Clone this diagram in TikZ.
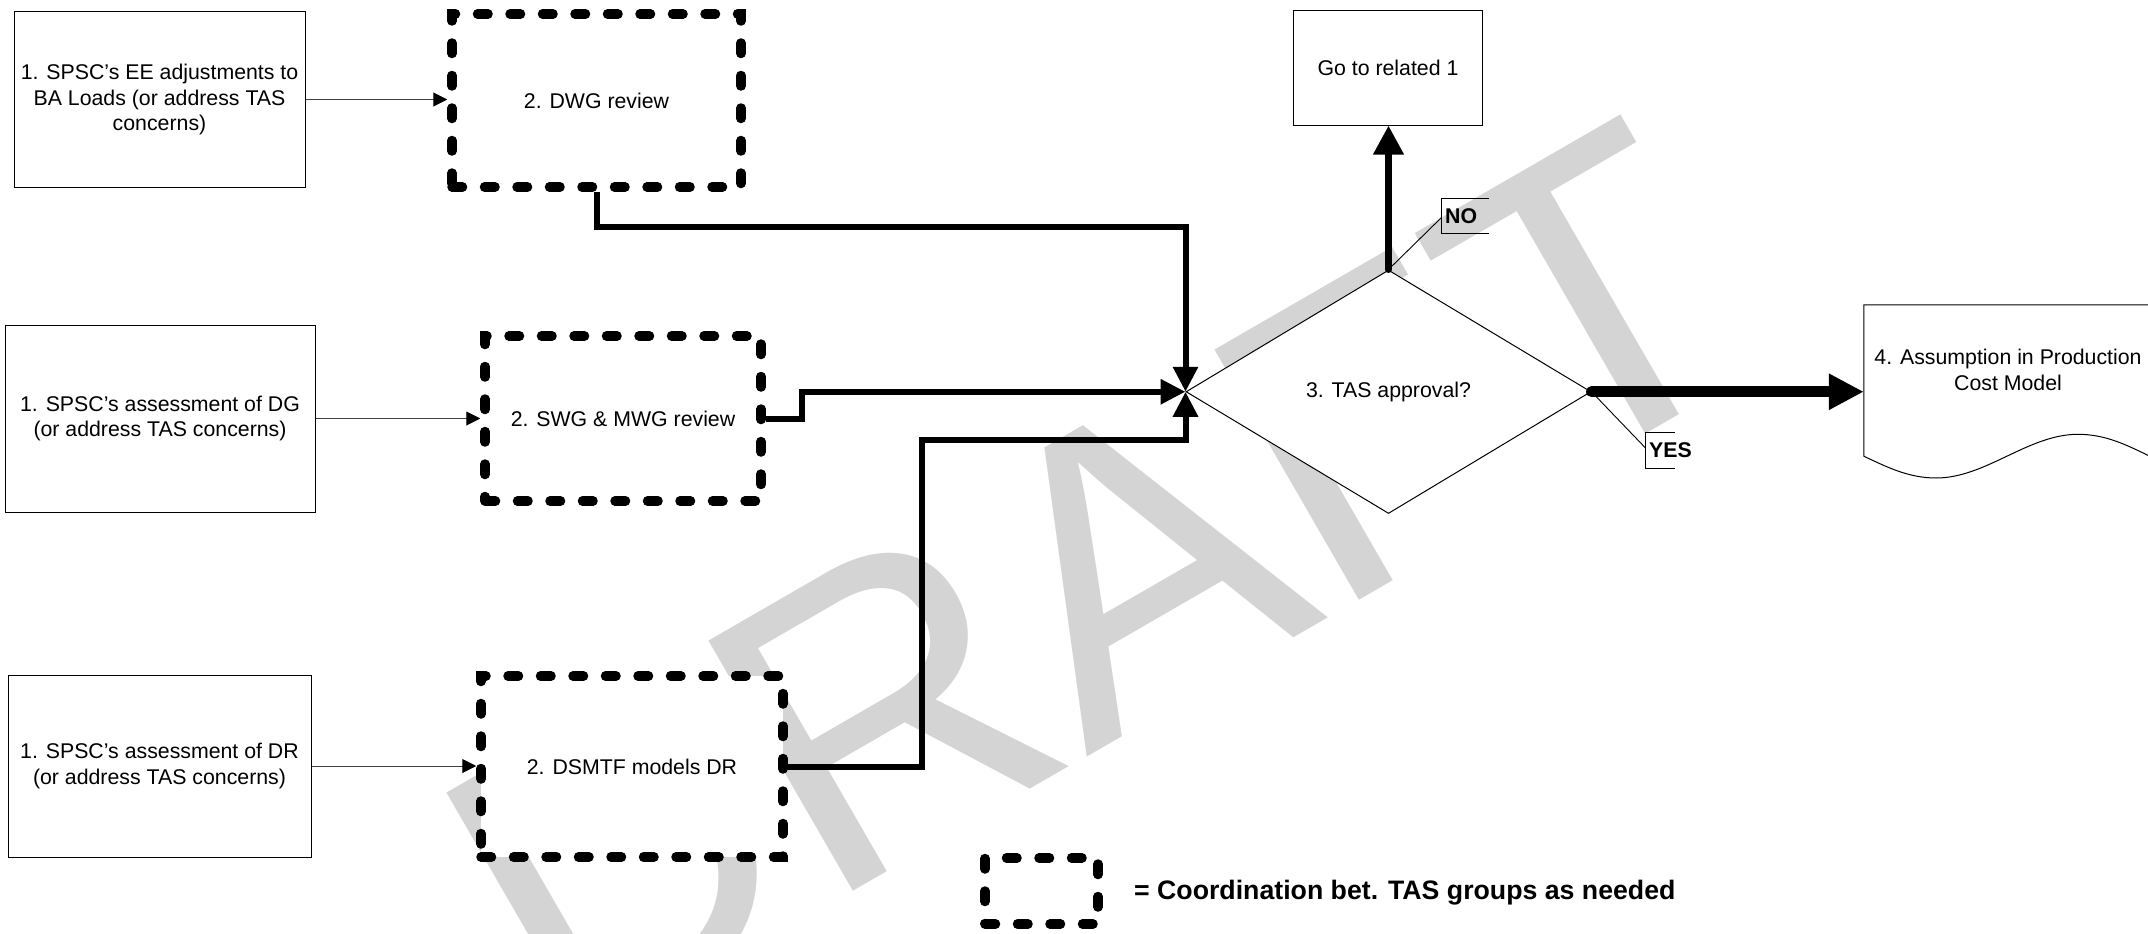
\documentclass[tikz,border=0pt]{standalone}
\usepackage{fontspec}
\setmainfont{Liberation Sans}
\usetikzlibrary{arrows.meta,shapes.geometric,calc}
\newcommand\myfs{\fontsize{21.3}{25.5}\selectfont}
\newcommand\mybf{\fontsize{21.3}{25.5}\selectfont\bfseries}
\newcommand\mylg{\fontsize{26.7}{30}\selectfont\bfseries}
\begin{document}
\begin{tikzpicture}[x=1pt,y=-1pt,
  thinbox/.style={draw=black, line width=1pt, fill=white, align=center, font=\myfs, inner sep=0pt},
  dashbox/.style={draw=black, line width=9.5pt, dash pattern=on 10.5pt off 22pt, line cap=round, fill=white, align=center, font=\myfs, inner sep=0pt},
  thinarrow/.style={draw=black!75, line width=1pt, -{Triangle[length=14pt,width=14pt,color=black]}},
  flow/.style={draw=black, line width=6pt, -{Triangle[length=25pt,width=24pt]}},
  noarrow/.style={draw=black, line width=7pt, line cap=round, -{Triangle[length=29pt,width=29pt]}},
  yesarrow/.style={draw=black, line width=11pt, line cap=round, -{Triangle[length=35pt,width=34pt]}},
  leader/.style={draw=black, line width=0.9pt},
  wm/.style={text=black!17, font=\fontsize{420}{420}\selectfont, inner sep=0pt, anchor=base west, rotate=30},
  lbl/.style={font=\mybf, inner sep=0pt, anchor=west}
]
\fill[white] (0,0) rectangle (2148,934);
\useasboundingbox (0,0) rectangle (2148,934);

% watermark
\node[wm] (wmark) at (561,1060.5) {DRAFT};

% left column boxes
\node[thinbox, minimum width=291pt, minimum height=175pt] (a1) at (159.5,99.5)
  {1. SPSC’s EE adjustments to\\BA Loads (or address TAS\\concerns)};
\node[thinbox, minimum width=310pt, minimum height=187pt] (b1) at (160,418.5)
  {1. SPSC’s assessment of DG\\(or address TAS concerns)};
\node[thinbox, minimum width=303pt, minimum height=182pt] (c1) at (159.5,766)
  {1. SPSC’s assessment of DR\\(or address TAS concerns)};

% dashed review boxes
\node[dashbox, minimum width=289pt, minimum height=173pt] (a2) at (596.5,100.5) {2. DWG review};
\node[dashbox, minimum width=276pt, minimum height=165pt] (b2) at (623,418.5) {2. SWG \& MWG review};
\node[dashbox, minimum width=302pt, minimum height=181pt] (c2) at (632,766.5) {2. DSMTF models DR};

% decision
\node[shape=diamond, draw=black, line width=1pt, fill=white, inner sep=0pt,
      minimum width=405pt, minimum height=243.5pt, font=\myfs] (d) at (1388.5,391.75) {3. TAS approval?};

% go to box
\node[thinbox, minimum width=189pt, minimum height=114pt] (g) at (1388,68) {Go to related 1};

% document shape (right side lies just beyond the picture edge)
\node[minimum width=285.5pt, minimum height=151pt, inner sep=0pt] (doc) at (2006.75,380.5) {};
\draw[line width=1pt, fill=white] (doc.south west) -- (doc.north west) -- (doc.north east) -- (doc.south east)
  .. controls (2126,444.6) and (2105,434.3) .. (2078,434.3)
  .. controls (2028,434.3) and (1986,478) .. (1936,478)
  .. controls (1909,478) and (1887.5,467.4) .. (doc.south west) -- cycle;
\node[font=\myfs, align=center, inner sep=0pt] (doctext) at (2008,370) {4. Assumption in Production\\Cost Model};

% thin arrows
\draw[thinarrow] (a1.east) -- (a1.east -| a2.west);
\draw[thinarrow] (b1.east) -- (b1.east -| b2.west);
\draw[thinarrow] (c1.east) -- (c1.east -| c2.west);

% flow connectors
\draw[flow] (a2.south) -- ++(0,35.5) -| (d.west);
\draw[flow] (b2.east) -- ++(36,0) |- (d.west);
\draw[flow] (c2.east) -- ++(134,0) |- ([yshift=-48pt]d.west) -- (d.west);

% NO / YES
\draw[noarrow] (d.north) -- (d.north |- g.south);
\draw[yesarrow] (d.east) -- (d.east -| doc.west);

\coordinate (nob) at (1441.5,198);
\coordinate (yb) at (1645,432.5);
\draw[leader] (1489,198) -- (nob) -- (1441.5,233.5) -- (1489,233.5);
\draw[leader] (d.north) -- (1441.5,217.5);
\node[lbl] (no) at (1445,216) {NO};
\draw[leader] (1675,432.5) -- (yb) -- (1645,468.5) -- (1675,468.5);
\draw[leader] (d.east) -- (1645,447.5);
\node[lbl] (yes) at (1649,450.5) {YES};

% legend
\node[dashbox, minimum width=113pt, minimum height=66pt] (lg) at (1041.5,891) {};
\node[font=\mylg, inner sep=0pt, anchor=west] (lgtext) at (1134,893) {= Coordination bet. TAS groups as needed};
\end{tikzpicture}
\end{document}
